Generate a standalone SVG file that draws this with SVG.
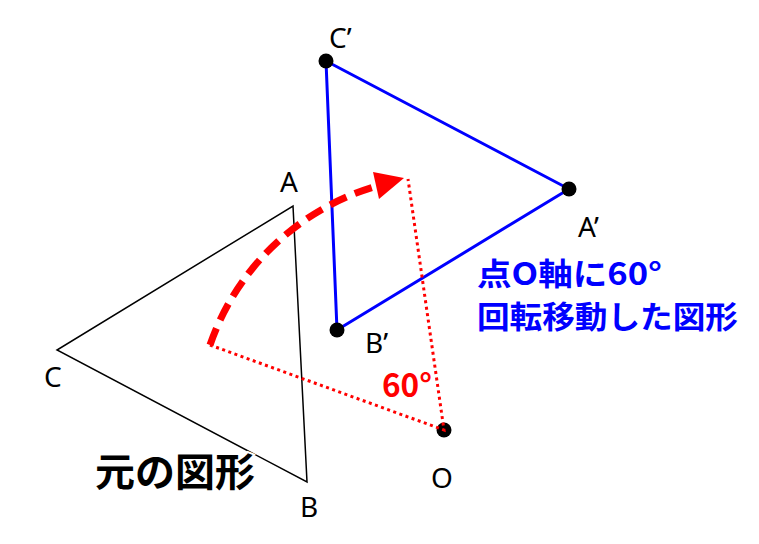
<svg xmlns="http://www.w3.org/2000/svg" width="759" height="544" viewBox="0 0 759 544">
<style>
.lbl{font-family:"Noto Sans","Open Sans","DejaVu Sans",sans-serif;font-size:28px;fill:#000}
.jp{font-family:"Noto Sans CJK JP","Noto Sans",sans-serif;font-weight:bold}
.orig{fill:none;stroke:#000;stroke-width:1.5;stroke-linejoin:miter}
.rot{fill:none;stroke:#0000ff;stroke-width:3;stroke-linejoin:round}
.dot{fill:#000}
.dotted{fill:none;stroke:#ff0000;stroke-width:3;stroke-dasharray:3 3.5}
.dashed{fill:none;stroke:#ff0000;stroke-width:7;stroke-dasharray:18 9}
</style>
<rect width="759" height="544" fill="#fff"/>
<g id="original-triangle">
<polygon class="orig" points="293,206 307,482 57,350"/>
<text class="lbl" x="280" y="192">A</text>
<text class="lbl" x="300" y="517">B</text>
<text class="lbl" x="44" y="387">C</text>
</g>
<g id="rotated-triangle">
<polygon class="rot" points="326,61 569,189 337,330"/>
<circle class="dot" cx="326" cy="61" r="7.5"/>
<circle class="dot" cx="569" cy="189" r="7.5"/>
<circle class="dot" cx="337" cy="330" r="7.5"/>
<text class="lbl" x="329" y="48">C’</text>
<text class="lbl" x="578" y="237">A’</text>
<text class="lbl" x="365" y="353">B’</text>
</g>
<g id="center-O">
<circle class="dot" cx="444" cy="430" r="7.5"/>
<text class="lbl" x="431" y="488">O</text>
</g>
<g id="connectors">
<polyline class="dotted" points="210,345 444,430 408,179"/>
<path class="dashed" d="M210,345 A250,250 0 0 1 377,186"/>
<polygon fill="#ff0000" points="373,172 404,178 379,199"/>
</g>
<g id="angle-label">
<text class="jp" x="382" y="397" font-size="32" fill="#ff0000" textLength="50" lengthAdjust="spacingAndGlyphs">60°</text>
</g>
<g id="rotated-caption">
<text class="jp" x="477" y="285" font-size="31" fill="#0000ff" textLength="185" lengthAdjust="spacingAndGlyphs">点O軸に60°</text>
<text class="jp" x="477" y="328" font-size="31" fill="#0000ff" textLength="261" lengthAdjust="spacingAndGlyphs">回転移動した図形</text>
</g>
<g id="original-caption">
<text class="jp" x="95" y="486" font-size="39" fill="#000" stroke="#fff" stroke-width="4" paint-order="stroke" textLength="160" lengthAdjust="spacingAndGlyphs">元の図形</text>
</g>
</svg>
